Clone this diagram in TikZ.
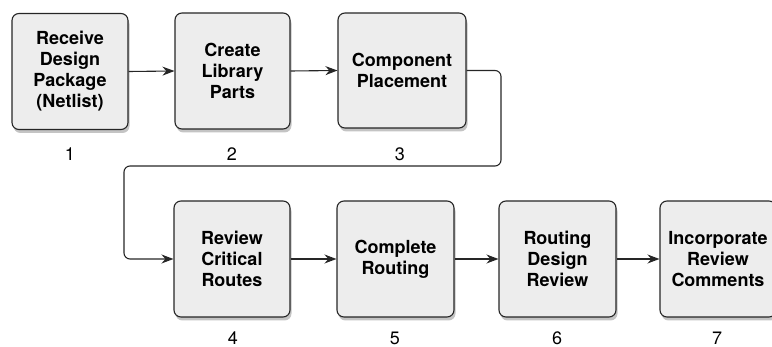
\documentclass[tikz,border=0pt]{standalone}
\usepackage{fontspec}
\setmainfont{TeX Gyre Heros}
\usetikzlibrary{arrows.meta,positioning,shadows}

\tikzset{
  stepbox/.style={draw=black!85,line width=1.1pt,rounded corners=7pt,fill=gray!14,
    minimum width=116pt,minimum height=116pt,align=center,
    font=\fontsize{18}{21}\selectfont\bfseries,
    drop shadow={shadow xshift=1.5pt,shadow yshift=-3.5pt,opacity=.55,fill=gray!85}},
  stepnum/.style={font=\fontsize{18}{21}\selectfont},
  flow/.style={-{Stealth[length=12pt,width=9pt]},line width=1.1pt,black!85}
}

\begin{document}
\begin{tikzpicture}[x=1pt,y=-1pt]
  \useasboundingbox (0,0) rectangle (772,347);
  % top row
  \node[stepbox] (recv) at (70,71.5) {Receive\\Design\\Package\\(Netlist)};
  \node[stepbox,minimum width=115pt] (lib) at (232.5,71) {Create\\Library\\Parts};
  \node[stepbox,minimum width=128pt,minimum height=115pt] (place) at (402,70.5) {Component\\Placement};
  \node[stepnum] (n1) at (70,154) {1};
  \node[stepnum] (n2) at (232,154) {2};
  \node[stepnum] (n3) at (400,154) {3};
  % bottom row
  \node[stepbox] (crit) at (232,259) {Review\\Critical\\Routes};
  \node[stepbox,minimum width=117pt] (route) at (395.5,259) {Complete\\Routing};
  \node[stepbox,minimum width=117pt] (drev) at (557.5,259) {Routing\\Design\\Review};
  \node[stepbox] (incorp) at (718,259) {Incorporate\\Review\\Comments};
  \node[stepnum] (n4) at (233,338) {4};
  \node[stepnum] (n5) at (395,338) {5};
  \node[stepnum] (n6) at (557,338) {6};
  \node[stepnum] (n7) at (717,338) {7};
  % connectors
  \draw[flow] (recv.east) -- (lib.west);
  \draw[flow] (lib.east) -- (place.west);
  \coordinate (turnR) at (501,166);
  \coordinate (turnL) at (124,166);
  \draw[flow,rounded corners=6pt] (place.east) -| (turnR) -- (turnL) |- (crit.west);
  \draw[flow] (crit.east) -- (route.west);
  \draw[flow] (route.east) -- (drev.west);
  \draw[flow] (drev.east) -- (incorp.west);
\end{tikzpicture}
\end{document}
